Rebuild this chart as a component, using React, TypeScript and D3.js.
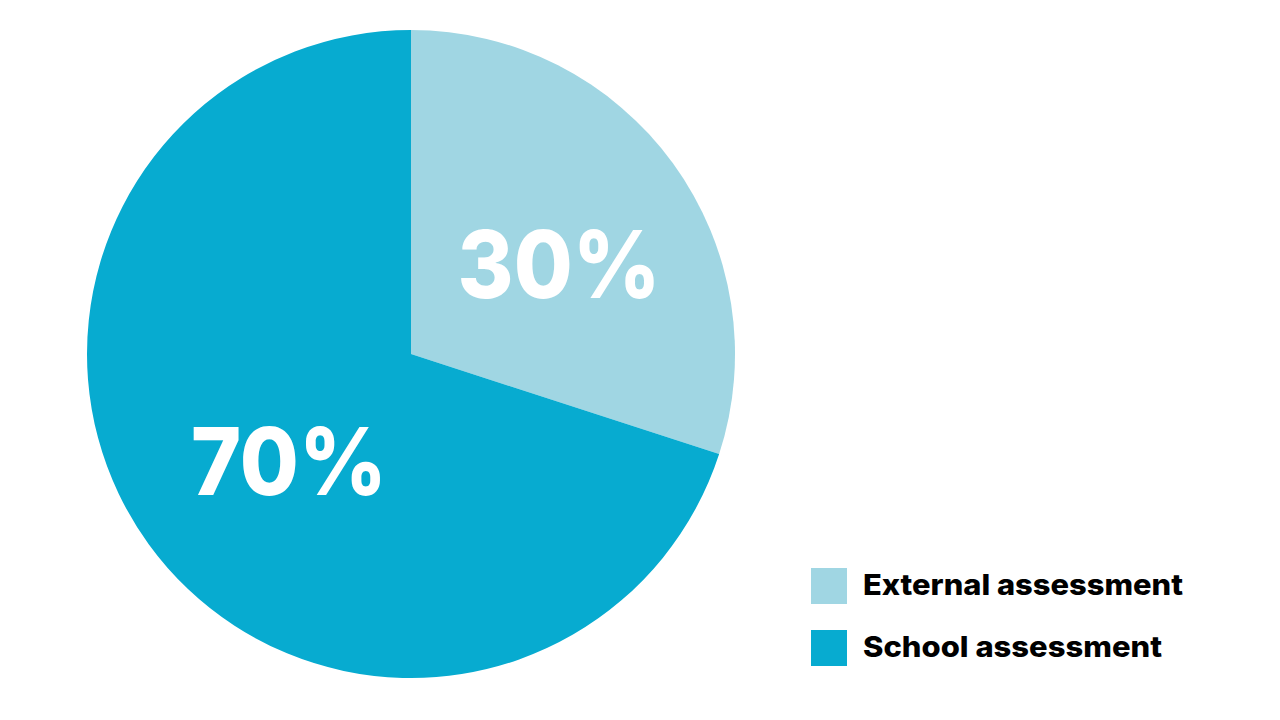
import React from "react";
import * as d3 from "d3";

const categories = ["External assessment", "School assessment"];
const values = [30, 70];
const labels = ["30%", "70%"];
const colors = ["#a0d6e3", "#07abd0"];

export default function App() {
  const width = 1280;
  const height = 720;
  const cx = 411;
  const cy = 354;
  const r = 324;
  const pie = d3.pie<number>().sort(null).value((d) => d);
  const arcs = pie(values);
  const arc = d3.arc<d3.PieArcDatum<number>>().innerRadius(0).outerRadius(r);
  const labelArc = d3.arc<d3.PieArcDatum<number>>().innerRadius(167).outerRadius(167);
  const labelWidths = [195, 188];
  const legendY = [568, 630];
  const legendWidths = [320, 299];
  return (
    <svg
      width={width}
      height={height}
      style={{ position: "absolute", left: 0, top: 0, background: "#fff" }}
      fontFamily="Inter, 'Noto Sans', sans-serif"
    >
      <g transform={`translate(${cx},${cy})`}>
        {arcs.map((a, i) => (
          <path key={i} d={arc(a) || ""} fill={colors[i]} />
        ))}
        {arcs.map((a, i) => {
          const [x, y] = labelArc.centroid(a);
          return (
            <text
              key={"l" + i}
              x={x + 11 - labelWidths[i] / 2 - 2}
              y={y + 8.5 + 34}
              fill="#fff"
              fontSize={94}
              fontWeight={800}
              textLength={labelWidths[i] + 8}
              lengthAdjust="spacingAndGlyphs"
            >
              {labels[i]}
            </text>
          );
        })}
      </g>
      {categories.map((c, i) => (
        <g key={c}>
          <rect x={811} y={legendY[i]} width={36} height={36} fill={colors[i]} />
          <text
            x={863}
            y={legendY[i] + 27}
            fontSize={29}
            fontWeight={800}
            fill="#000"
            textLength={legendWidths[i]}
            lengthAdjust="spacingAndGlyphs"
          >
            {c}
          </text>
        </g>
      ))}
    </svg>
  );
}
